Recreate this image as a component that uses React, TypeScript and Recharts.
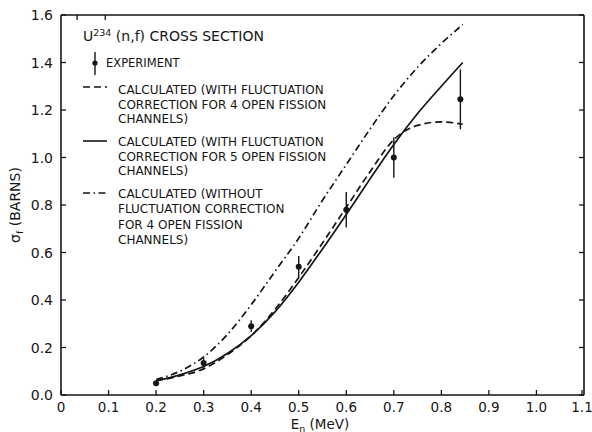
import React from "react";
import {
  ComposedChart,
  Line,
  Scatter,
  ErrorBar,
  XAxis,
  YAxis,
} from "recharts";

// U-234 (n,f) cross section vs neutron energy.
const energy = [0.2, 0.25, 0.3, 0.35, 0.4, 0.45, 0.5, 0.55, 0.6, 0.65, 0.7, 0.75, 0.8, 0.845];
const calc4Channels = [0.06, 0.08, 0.11, 0.17, 0.25, 0.36, 0.495, 0.64, 0.79, 0.94, 1.075, 1.135, 1.15, 1.14];
const calc5Channels = [0.06, 0.085, 0.12, 0.175, 0.25, 0.35, 0.475, 0.615, 0.76, 0.91, 1.055, 1.185, 1.3, 1.4];
const calcNoFluct = [0.065, 0.1, 0.16, 0.255, 0.38, 0.52, 0.66, 0.82, 0.97, 1.12, 1.26, 1.38, 1.48, 1.56];

const expEnergy = [0.2, 0.3, 0.4, 0.5, 0.6, 0.7, 0.84];
const expSigma = [0.05, 0.135, 0.29, 0.54, 0.78, 1.0, 1.245];
const expError = [0.01, 0.02, 0.025, 0.045, 0.075, 0.085, 0.126];

const xTicks = [0, 0.1, 0.2, 0.3, 0.4, 0.5, 0.6, 0.7, 0.8, 0.9, 1.0, 1.1];
const yTicks = [0, 0.2, 0.4, 0.6, 0.8, 1.0, 1.2, 1.4, 1.6];

const curveRows = energy.map((x, i) => ({
  x,
  c4: calc4Channels[i],
  c5: calc5Channels[i],
  nf: calcNoFluct[i],
}));

const expRows = expEnergy.map((x, i) => ({ x, y: expSigma[i], err: expError[i] }));

const INK = "#151515";
const FONT = "'DejaVu Sans', sans-serif";
const DASH = "7 4";
const DASH_DOT = "7 3.5 1.5 3.5";
const TICK = 5;

type TickProps = { x?: number; y?: number; payload?: { value: number } };

function BottomTick({ x = 0, y = 0, payload }: TickProps) {
  const v = payload?.value ?? 0;
  return (
    <g>
      <line x1={x} y1={y} x2={x} y2={y - TICK} stroke={INK} strokeWidth={1.3} />
      <text x={x} y={y + 16.5} textAnchor="middle" fontSize={13.5} fontFamily={FONT} fill={INK}>
        {v === 0 ? "0" : v.toFixed(1)}
      </text>
    </g>
  );
}

function LeftTick({ x = 0, y = 0, payload }: TickProps) {
  const v = payload?.value ?? 0;
  return (
    <g>
      <line x1={x} y1={y} x2={x + TICK} y2={y} stroke={INK} strokeWidth={1.3} />
      <text x={x - 8} y={y + 5} textAnchor="end" fontSize={14} fontFamily={FONT} fill={INK}>
        {v.toFixed(1)}
      </text>
    </g>
  );
}

function TopTick({ x = 0, y = 0 }: TickProps) {
  return <line x1={x} y1={y} x2={x} y2={y + TICK} stroke={INK} strokeWidth={1.3} />;
}

function RightTick({ x = 0, y = 0 }: TickProps) {
  return <line x1={x} y1={y} x2={x - TICK} y2={y} stroke={INK} strokeWidth={1.3} />;
}

function ExpPoint(props: { cx?: number; cy?: number }) {
  if (props.cx == null || props.cy == null) return null;
  return <circle cx={props.cx} cy={props.cy} r={3} fill={INK} />;
}

function LegendText({ y, lines, step }: { y: number; lines: string[]; step: number }) {
  return (
    <>
      {lines.map((t, i) => (
        <text key={t} x={118} y={y + i * step} fontSize={12} fontFamily={FONT} fill={INK}>
          {t}
        </text>
      ))}
    </>
  );
}

// title, legend and axis titles sit on top of the chart svg
function Overlay() {
  return (
    <svg
      width={592}
      height={432}
      style={{ position: "absolute", left: 0, top: 0, pointerEvents: "none" }}
    >
      <text x={83} y={41} fontSize={14} fontFamily={FONT} fill={INK}>
        U<tspan fontSize={9.5} dy={-5}>234</tspan>
        <tspan dy={5}> (n,f) CROSS SECTION</tspan>
      </text>

      <line x1={95} y1={52} x2={95} y2={75} stroke={INK} strokeWidth={1.4} />
      <circle cx={95} cy={63} r={2.6} fill={INK} />
      <text x={106} y={67} fontSize={11.5} fontFamily={FONT} fill={INK}>
        EXPERIMENT
      </text>

      <line x1={83} y1={87} x2={107} y2={87} stroke={INK} strokeWidth={1.6} strokeDasharray={DASH} />
      <LegendText
        y={94}
        step={14.5}
        lines={["CALCULATED (WITH FLUCTUATION", "CORRECTION FOR 4 OPEN FISSION", "CHANNELS)"]}
      />

      <line x1={83} y1={141} x2={107} y2={141} stroke={INK} strokeWidth={1.6} />
      <LegendText
        y={146}
        step={14.5}
        lines={["CALCULATED (WITH FLUCTUATION", "CORRECTION FOR 5 OPEN FISSION", "CHANNELS)"]}
      />

      <line x1={83} y1={193} x2={107} y2={193} stroke={INK} strokeWidth={1.6} strokeDasharray={DASH_DOT} />
      <LegendText
        y={197.5}
        step={15.5}
        lines={["CALCULATED (WITHOUT", "FLUCTUATION CORRECTION", "FOR 4 OPEN FISSION", "CHANNELS)"]}
      />

      <text
        transform="translate(20 205) rotate(-90)"
        textAnchor="middle"
        fontSize={14}
        fontFamily={FONT}
        fill={INK}
      >
        σ<tspan fontSize={9.5} dy={3}>f</tspan>
        <tspan dy={-3}> (BARNS)</tspan>
      </text>

      <text x={320} y={428.5} textAnchor="middle" fontSize={13.5} fontFamily={FONT} fill={INK}>
        E<tspan fontSize={9.5} dy={3}>n</tspan>
        <tspan dy={-3}> (MeV)</tspan>
      </text>
    </svg>
  );
}

export default function App() {
  return (
    <div
      style={{
        position: "absolute",
        left: 0,
        top: 0,
        width: 592,
        height: 432,
        background: "#fff",
      }}
    >
      <ComposedChart
        width={592}
        height={432}
        data={curveRows}
        margin={{ top: 14, right: 7, bottom: 0, left: 0 }}
      >
        <XAxis
          dataKey="x"
          type="number"
          domain={[0, 1.1]}
          ticks={xTicks}
          allowDataOverflow
          tick={<BottomTick />}
          tickSize={0}
          tickMargin={0}
          tickLine={false}
          height={37}
          axisLine={{ stroke: INK, strokeWidth: 1.6 }}
        />
        <XAxis
          xAxisId="top"
          orientation="top"
          type="number"
          domain={[0, 1.1]}
          ticks={xTicks}
          allowDataOverflow
          tick={<TopTick />}
          tickSize={0}
          tickMargin={0}
          tickLine={false}
          height={1}
          axisLine={{ stroke: INK, strokeWidth: 1.6 }}
        />
        <YAxis
          type="number"
          domain={[0, 1.6]}
          ticks={yTicks}
          allowDataOverflow
          tick={<LeftTick />}
          tickSize={0}
          tickMargin={0}
          tickLine={false}
          width={61}
          axisLine={{ stroke: INK, strokeWidth: 1.6 }}
        />
        <YAxis
          yAxisId="right"
          orientation="right"
          type="number"
          domain={[0, 1.6]}
          ticks={yTicks}
          allowDataOverflow
          tick={<RightTick />}
          tickSize={0}
          tickMargin={0}
          tickLine={false}
          width={1}
          axisLine={{ stroke: INK, strokeWidth: 1.6 }}
        />
        <Line
          type="monotone"
          dataKey="nf"
          stroke={INK}
          strokeWidth={1.7}
          strokeDasharray={DASH_DOT}
          dot={false}
          isAnimationActive={false}
        />
        <Line
          type="monotone"
          dataKey="c4"
          stroke={INK}
          strokeWidth={1.7}
          strokeDasharray={DASH}
          dot={false}
          isAnimationActive={false}
        />
        <Line
          type="monotone"
          dataKey="c5"
          stroke={INK}
          strokeWidth={1.7}
          dot={false}
          isAnimationActive={false}
        />
        <Scatter data={expRows} dataKey="y" shape={<ExpPoint />} isAnimationActive={false}>
          <ErrorBar dataKey="err" direction="y" width={0} stroke={INK} strokeWidth={1.4} />
        </Scatter>
      </ComposedChart>
      <Overlay />
    </div>
  );
}
